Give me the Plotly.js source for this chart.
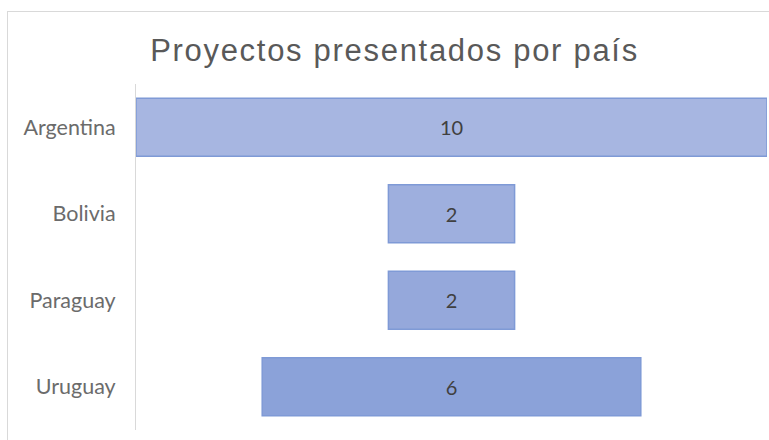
<!DOCTYPE html>
<html>
<head>
<meta charset="utf-8">
<script src="https://cdn.plot.ly/plotly-3.0.1.min.js"></script>
<style>
html,body{margin:0;padding:0;background:#fff;overflow:hidden;}
#frame{position:absolute;left:7px;top:11px;width:900px;height:600px;border:1px solid #d9d9d9;box-sizing:border-box;}
#chart{position:absolute;left:0;top:0;width:769px;height:440px;}
#chart .gtitle{letter-spacing:1.7px;}
</style>
</head>
<body>
<div id="frame"></div>
<div id="chart"></div>
<script>
const countries = ["Argentina", "Bolivia", "Paraguay", "Uruguay"];
const projects = [10, 2, 2, 6];
const barColors = ["#A7B6E1", "#9EAFDE", "#95A8DB", "#8BA2D9"];

const trace = {
  type: "funnel",
  y: countries,
  x: projects,
  textinfo: "value",
  textposition: "inside",
  insidetextanchor: "middle",
  textfont: {family: "Lato, 'Open Sans', sans-serif", size: 20, color: "#404040"},
  marker: {color: barColors, line: {color: "#7F9AD6", width: 1.5}},
  connector: {visible: false},
  hoverinfo: "skip"
};

const layout = {
  width: 769, height: 440,
  paper_bgcolor: "rgba(0,0,0,0)", plot_bgcolor: "rgba(0,0,0,0)",
  margin: {l: 136, r: 2, t: 84, b: 10},
  title: {text: "Proyectos presentados por país", x: 0.513, xanchor: "center", y: 0.885, yanchor: "middle",
          font: {family: "'Liberation Sans', Arial, sans-serif", size: 31, color: "#595959"}},
  funnelgap: 0.33,
  showlegend: false,
  xaxis: {range: [-5, 5], visible: false, fixedrange: true},
  yaxis: {showline: true, linecolor: "#d9d9d9", linewidth: 1, showgrid: false, zeroline: false,
          ticks: "", ticklabelstandoff: 15,
          tickfont: {family: "Lato, 'Open Sans', sans-serif", size: 21.5, color: "#6b6b6b"}}
};

Plotly.newPlot("chart", [trace], layout, {displayModeBar: false, staticPlot: true});
</script>
</body>
</html>
